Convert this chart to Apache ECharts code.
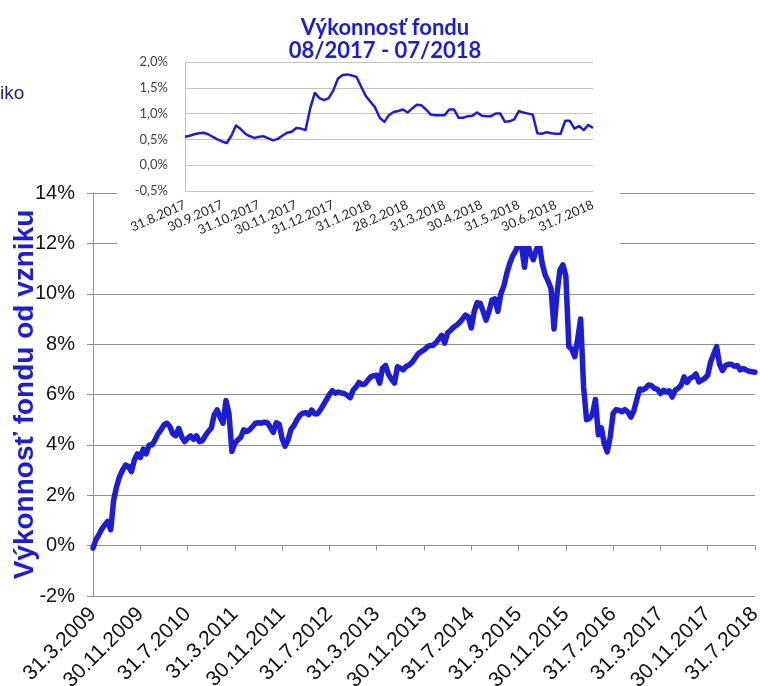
<!DOCTYPE html>
<html>
<head>
<meta charset="utf-8">
<script src="https://cdn.jsdelivr.net/npm/echarts@6/dist/echarts.min.js"></script>
<style>html,body{margin:0;padding:0;background:#fff}#c{width:760px;height:686px}</style>
</head>
<body>
<div id="c"></div>
<script>
// ---------- DATA ----------
// Main chart: semi-monthly points from 31.3.2009 to 31.7.2018 (value in %)
const mainTickLabels = ['31.3.2009','30.11.2009','31.7.2010','31.3.2011','30.11.2011','31.7.2012','31.3.2013','30.11.2013','31.7.2014','31.3.2015','30.11.2015','31.7.2016','31.3.2017','30.11.2017','31.7.2018'];
const mainValues = [
 -0.1,0.24,0.44,0.66,0.83,0.96,0.63,1.82,2.35,2.75,
 3.0,3.2,3.14,2.94,3.4,3.64,3.5,3.83,3.64,4.0,
 4.0,4.2,4.44,4.6,4.79,4.86,4.73,4.44,4.36,4.66,
 4.33,4.13,4.26,4.36,4.22,4.36,4.13,4.17,4.36,4.53,
 4.66,5.19,5.39,5.1,4.86,5.76,5.25,3.74,4.07,4.2,
 4.3,4.6,4.53,4.6,4.73,4.86,4.88,4.86,4.9,4.88,
 4.7,4.5,4.88,4.82,4.25,3.95,4.2,4.62,4.77,5.0,
 5.17,5.26,5.28,5.2,5.38,5.24,5.24,5.4,5.6,5.8,
 6.0,6.15,6.05,6.1,6.06,6.04,5.97,5.87,6.17,6.3,
 6.48,6.4,6.42,6.57,6.7,6.75,6.77,6.45,7.05,7.15,
 6.8,6.6,6.45,7.1,7.04,6.98,7.12,7.17,7.28,7.45,
 7.62,7.7,7.77,7.88,7.95,7.95,8.05,8.2,8.35,8.04,
 8.45,8.55,8.67,8.75,8.85,9.0,9.15,9.08,8.64,9.3,
 9.65,9.62,9.3,8.95,9.3,9.75,9.8,9.3,10.0,10.3,
 10.8,11.2,11.5,11.7,12.0,11.9,11.05,12.0,11.6,11.35,
 11.75,12.0,11.2,10.75,10.5,10.2,8.6,10.0,10.95,11.15,
 10.7,7.9,7.8,7.5,8.2,9.0,6.3,5.0,5.05,5.2,
 5.8,4.4,4.68,4.04,3.72,4.3,5.25,5.4,5.37,5.32,
 5.4,5.3,5.1,5.35,5.8,6.22,6.18,6.25,6.38,6.35,
 6.24,6.2,6.04,6.17,6.1,6.15,5.9,6.17,6.24,6.37,
 6.7,6.48,6.64,6.7,6.82,6.5,6.57,6.64,6.77,7.3,
 7.6,7.9,7.2,6.95,7.15,7.2,7.2,7.12,7.15,6.98,
 7.03,6.97,6.92,6.9,6.88
];
// Inset: 8 points per month from 31.8.2017 to 31.7.2018 (value in %)
const insetTickLabels = ['31.8.2017','30.9.2017','31.10.2017','30.11.2017','31.12.2017','31.1.2018','28.2.2018','31.3.2018','30.4.2018','31.5.2018','30.6.2018','31.7.2018'];
const insetValues = [
 0.55,0.57,0.60,0.62,0.63,0.60,0.55,0.50,0.46,0.43,
 0.57,0.77,0.70,0.61,0.56,0.53,0.55,0.56,0.52,0.48,
 0.51,0.57,0.63,0.65,0.72,0.71,0.68,1.10,1.40,1.30,
 1.26,1.30,1.45,1.68,1.75,1.76,1.74,1.71,1.52,1.34,
 1.23,1.12,0.92,0.84,0.97,1.03,1.05,1.08,1.02,1.10,
 1.17,1.16,1.08,0.98,0.97,0.97,0.97,1.08,1.08,0.92,
 0.92,0.95,0.96,1.02,0.96,0.95,0.95,1.0,1.0,0.84,
 0.85,0.89,1.05,1.02,1.0,0.98,0.62,0.61,0.64,0.62,
 0.61,0.61,0.86,0.86,0.71,0.76,0.68,0.78,0.72
];
const mainYMin = -2, mainYMax = 14, mainYStep = 2;
const insetYMin = -0.5, insetYMax = 2.0, insetYStep = 0.5;
const yAxisTitle = 'Výkonnosť fondu od vzniku';
const insetTitle = 'Výkonnosť fondu\n08/2017 - 07/2018';
const leftoverText = 'iko';

// ---------- categories ----------
const PER_MAIN = 16;  // categories between labelled ticks (8 months x 2)
const PER_INSET = 8;  // categories per month in inset
const mainCategories = mainValues.map((_, i) => 'm' + i);
const insetCategories = insetValues.map((_, i) => 'i' + i);

const blue = '#1d1dd2';
const gridGray = '#8f8f8f';
const insetGray = '#c4c4c4';
const arial = '"Liberation Sans", Arial, sans-serif';

const chart = echarts.init(document.getElementById('c'), null, {renderer: 'canvas'});
const option = {
  animation: false,
  backgroundColor: '#ffffff',
  textStyle: {fontFamily: arial},
  grid: [
    {left: 93, right: 5, top: 193, bottom: 90, containLabel: false, outerBoundsMode: 'none'},
    {left: 185, right: 167, top: 62, bottom: 495, containLabel: false, outerBoundsMode: 'none'}
  ],
  graphic: [
    {type: 'rect', shape: {x: 117, y: 0, width: 503, height: 246}, style: {fill: '#ffffff'}, z: 50, silent: true},
    {type: 'text', x: 385, y: 16, z: 80, style: {text: insetTitle, textAlign: 'center', font: 'bold 22px Lato', fill: blue, lineHeight: 23}},
    {type: 'text', x: 0, y: 84, z: 80, style: {text: leftoverText, font: '19px "Liberation Sans"', fill: '#1c2670'}}
  ],
  xAxis: [
    {
      type: 'category', gridIndex: 0, data: mainCategories, boundaryGap: false, position: 'bottom',
      axisLine: {show: false, onZero: false}, axisTick: {show: false}, splitLine: {show: false},
      axisLabel: {
        interval: (i) => i % PER_MAIN === 0,
        formatter: (v, i) => mainTickLabels[Math.round(i / PER_MAIN)],
        rotate: 45, fontSize: 21, color: '#111', margin: 15, fontFamily: arial
      }
    },
    {
      type: 'category', gridIndex: 0, data: mainCategories, boundaryGap: false, position: 'bottom',
      axisLine: {show: true, onZero: true, lineStyle: {color: gridGray, width: 1}},
      axisTick: {show: true, interval: (i) => i % PER_MAIN === 0, length: 5, lineStyle: {color: gridGray}},
      axisLabel: {show: false}, splitLine: {show: false}
    },
    {
      type: 'category', gridIndex: 1, data: insetCategories, boundaryGap: false, z: 60,
      axisLine: {show: false, onZero: false}, axisTick: {show: false}, splitLine: {show: false},
      axisLabel: {
        interval: (i) => i % PER_INSET === 0,
        formatter: (v, i) => insetTickLabels[Math.round(i / PER_INSET)],
        rotate: 24, fontSize: 13, color: '#262626', margin: 13, fontFamily: 'Lato'
      }
    }
  ],
  yAxis: [
    {
      type: 'value', gridIndex: 0, min: mainYMin, max: mainYMax, interval: mainYStep,
      axisLine: {show: true, lineStyle: {color: gridGray}},
      axisTick: {show: true, length: 6, lineStyle: {color: gridGray}},
      axisLabel: {formatter: (v) => v + '%', fontSize: 20, color: '#111', margin: 18, fontFamily: arial},
      splitLine: {show: true, lineStyle: {color: gridGray, width: 1}},
      name: yAxisTitle, nameLocation: 'middle', nameGap: 54, nameRotate: 90, nameMoveOverlap: false,
      nameTextStyle: {fontSize: 28, fontWeight: 'bold', color: blue, fontFamily: arial}
    },
    {
      type: 'value', gridIndex: 1, min: insetYMin, max: insetYMax, interval: insetYStep, z: 60,
      axisLine: {show: true, lineStyle: {color: insetGray}},
      axisTick: {show: false},
      axisLabel: {formatter: (v) => v.toFixed(1).replace('.', ',') + '%', fontSize: 13, color: '#404040', margin: 17, fontFamily: 'Lato'},
      splitLine: {show: true, lineStyle: {color: insetGray, width: 1}}
    }
  ],
  series: [
    {
      type: 'line', xAxisIndex: 0, yAxisIndex: 0, data: mainValues, showSymbol: false, z: 2,
      lineStyle: {width: 5.5, color: blue, cap: 'round', join: 'round'}
    },
    {
      type: 'line', xAxisIndex: 2, yAxisIndex: 1, data: insetValues, showSymbol: false, z: 70,
      lineStyle: {width: 2.5, color: blue, join: 'round'}
    }
  ]
};
chart.setOption(option);
</script>
</body>
</html>
